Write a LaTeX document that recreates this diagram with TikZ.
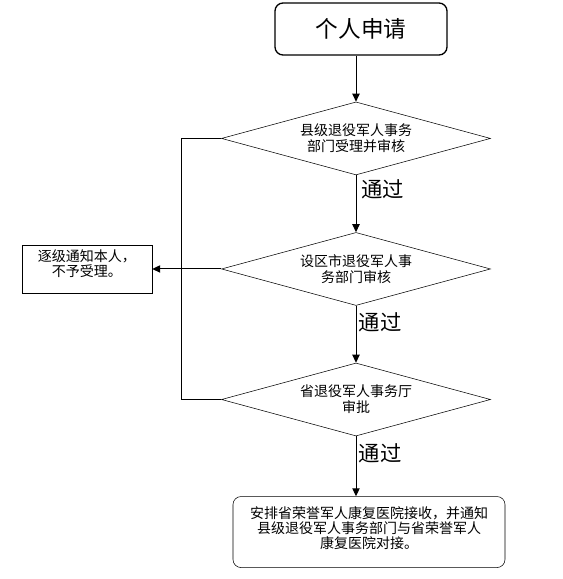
\documentclass[tikz,border=0pt]{standalone}
\usepackage{fontspec}
\setmainfont{Noto Sans CJK SC}
\usetikzlibrary{arrows.meta,positioning,shapes.geometric}

\begin{document}
\begin{tikzpicture}[x=0.75pt,y=-0.75pt,>={Triangle[length=6pt,width=5.5pt]},
  node distance=42.75pt and 51.75pt,
  start/.style={draw,line width=1pt,rounded corners=6pt,minimum width=129pt,minimum height=39pt,
    font=\fontsize{17}{20}\selectfont},
  check/.style={draw,diamond,aspect=3.7,inner sep=0pt,minimum width=201.75pt,minimum height=54.75pt,
    align=center,font=\fontsize{10.5}{12}\selectfont},
  note/.style={draw,minimum width=97.5pt,minimum height=35.25pt,align=center,text depth=9pt,
    font=\fontsize{10.5}{11.5}\selectfont},
  finish/.style={draw,rounded corners=6pt,minimum width=204pt,minimum height=53.25pt,align=center,
    text depth=7pt,font=\fontsize{10.5}{11.25}\selectfont},
  pass/.style={inner sep=0pt,font=\fontsize{16}{18}\selectfont},
  flow/.style={->,line width=0.75pt}]
  \useasboundingbox (0,0) rectangle (563,579);
  \node[start] (apply) at (361,29) {个人申请};
  \node[check,below=34.5pt of apply,xshift=-3.75pt] (county) {县级退役军人事务\\部门受理并审核};
  \node[check,below=of county] (city) {设区市退役军人事\\务部门审核};
  \node[check,below=of city] (prov) {省退役军人事务厅\\审批};
  \node[note,left=of city] (reject) {逐级通知本人，\\不予受理。};
  \node[finish,below=45pt of prov,xshift=9.75pt] (accept) {安排省荣誉军人康复医院接收，并通知\\县级退役军人事务部门与省荣誉军人\\康复医院对接。};
  \node[pass,below right=3pt and 4pt of county.south] (pass1) {通过};
  \node[pass,below right=5pt and 2pt of city.south] (pass2) {通过};
  \node[pass,below right=5pt and 2pt of prov.south] (pass3) {通过};
  \draw[flow] (apply.south -| county.north) -- (county.north);
  \draw[flow] (county.south) -- (city.north);
  \draw[flow] (city.south) -- (prov.north);
  \draw[flow] (prov.south) -- (prov.south |- accept.north);
  \draw[flow] (city.west) -- (reject.east);
  \draw[line width=0.75pt] (county.west) -- ++(-40,0) |- (prov.west);
\end{tikzpicture}
\end{document}
